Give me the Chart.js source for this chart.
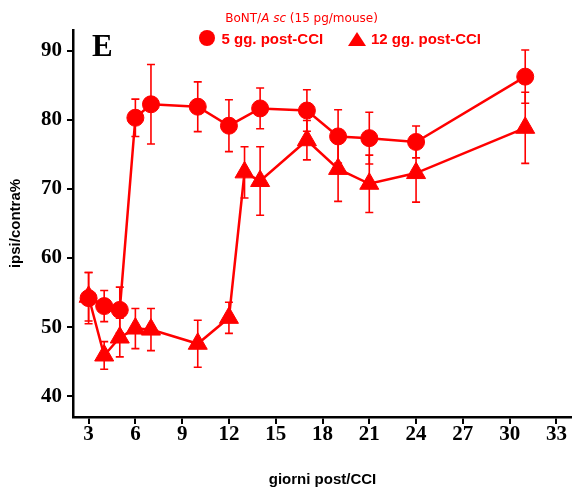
<!DOCTYPE html>
<html>
<head>
<meta charset="utf-8">
<script src="https://cdn.jsdelivr.net/npm/chart.js@4/dist/chart.umd.min.js"></script>
<style>
  html, body { margin: 0; padding: 0; background: #fff; }
  #wrap { position: relative; width: 572px; height: 488px; overflow: hidden; }
  #c { position: absolute; left: 0; top: 0; }
  .ov { position: absolute; white-space: nowrap; color: #ff0000; }
  #panel { left: 92px; top: 29.5px; font: bold 31px/31px "Liberation Serif", serif; color: #000; }
  #hdr { left: 0; width: 603px; text-align: center; top: 12px; font: 12px/12px "DejaVu Sans", sans-serif; }
  .lt { top: 30.6px; font: bold 15px/15px "Liberation Sans", Arial, sans-serif; }
  #dot { left: 199px; top: 30px; width: 16px; height: 16px; border-radius: 50%; background: #ff0000; }
  #tri { left: 348px; top: 31.5px; width: 0; height: 0; border-left: 9px solid transparent; border-right: 9px solid transparent; border-bottom: 14px solid #ff0000; }
</style>
</head>
<body>
<div id="wrap">
  <canvas id="c" width="572" height="488"></canvas>
  <div class="ov" id="panel">E</div>
  <div class="ov" id="hdr">BoNT/<i>A sc</i> (15 pg/mouse)</div>
  <div class="ov" id="dot"></div>
  <div class="ov lt" style="left:221.5px">5 gg. post-CCI</div>
  <div class="ov" id="tri"></div>
  <div class="ov lt" style="left:371px">12 gg. post-CCI</div>
</div>
<script>
// ---- data ----
const days5  = [3, 4, 5, 6, 7, 10, 12, 14, 17, 19, 21, 24, 31];
const mean5  = [54.2, 53.05, 52.5, 80.3, 82.25, 81.9, 79.15, 81.65, 81.35, 77.6, 77.35, 76.8, 86.25];
const err5   = [3.7, 2.25, 3.3, 2.7, 5.75, 3.6, 3.75, 2.95, 3.0, 3.85, 3.75, 2.3, 3.85];

const days12 = [3, 4, 5, 6, 7, 10, 12, 13, 14, 17, 19, 21, 24, 31];
const mean12 = [54.4, 45.9, 48.5, 49.8, 49.65, 47.6, 51.35, 72.4, 71.15, 77.05, 72.9, 70.75, 72.3, 78.85];
const err12  = [3.5, 2.0, 2.8, 2.9, 3.05, 3.4, 2.25, 3.7, 4.95, 2.85, 4.7, 4.15, 4.2, 5.15];

const xTicks = [3, 6, 9, 12, 15, 18, 21, 24, 27, 30, 33];
const yTicks = [40, 50, 60, 70, 80, 90];
const seriesLabels = ['5 gg. post-CCI', '12 gg. post-CCI'];
const xTitle = 'giorni post/CCI';
const yTitle = 'ipsi/contra%';

const RED = '#ff0000';
const toPts = (xs, ys, es) => xs.map((x, i) => ({ x: x, y: ys[i], e: es[i] }));

const errorBars = {
  id: 'errorBars',
  beforeDatasetsDraw(chart) {
    const ctx = chart.ctx;
    const xs = chart.scales.x, ys = chart.scales.y;
    ctx.save();
    ctx.strokeStyle = RED;
    ctx.lineWidth = 1.6;
    chart.data.datasets.forEach(ds => {
      ds.data.forEach(p => {
        const px = xs.getPixelForValue(p.x);
        const pt = ys.getPixelForValue(p.y + p.e);
        const pb = ys.getPixelForValue(p.y - p.e);
        ctx.beginPath();
        ctx.moveTo(px, pt); ctx.lineTo(px, pb);
        ctx.moveTo(px - 4, pt); ctx.lineTo(px + 4, pt);
        ctx.moveTo(px - 4, pb); ctx.lineTo(px + 4, pb);
        ctx.stroke();
      });
    });
    ctx.restore();
  }
};

const tickFont = { family: 'Liberation Serif', weight: 'bold', size: 21 };
const titleFont = { family: 'Liberation Sans', weight: 'bold', size: 15 };

new Chart(document.getElementById('c'), {
  type: 'line',
  data: {
    datasets: [
      {
        label: seriesLabels[0],
        data: toPts(days5, mean5, err5),
        borderColor: RED, backgroundColor: RED, borderWidth: 2.5,
        pointStyle: 'circle', pointRadius: 8.5, pointBorderWidth: 1,
        pointBackgroundColor: RED, pointBorderColor: RED, tension: 0, clip: false
      },
      {
        label: seriesLabels[1],
        data: toPts(days12, mean12, err12),
        borderColor: RED, backgroundColor: RED, borderWidth: 2.5,
        pointStyle: 'triangle', pointRadius: 11, pointBorderWidth: 1,
        pointBackgroundColor: RED, pointBorderColor: RED, tension: 0, clip: false
      }
    ]
  },
  options: {
    responsive: false,
    devicePixelRatio: 1,
    animation: false,
    layout: { autoPadding: false, padding: { top: 30, left: 0, right: 0, bottom: 0 } },
    plugins: { legend: { display: false }, tooltip: { enabled: false } },
    scales: {
      x: {
        type: 'linear', min: 2, max: 34,
        afterBuildTicks: s => { s.ticks = xTicks.map(v => ({ value: v })); },
        afterFit: s => { s.height = 71; s.paddingLeft = 0; s.paddingRight = 0; },
        border: { display: true, color: '#000', width: 2.5 },
        grid: { display: true, drawOnChartArea: false, color: '#000', lineWidth: 2, tickLength: 7 },
        ticks: { color: '#000', font: tickFont, padding: -2, maxRotation: 0, autoSkip: false },
        title: { display: true, text: xTitle, color: '#000', font: titleFont, padding: { top: 0, bottom: -1 } }
      },
      y: {
        type: 'linear', min: 37, max: 93,
        afterBuildTicks: s => { s.ticks = yTicks.map(v => ({ value: v })); },
        afterFit: s => { s.width = 73; s.paddingTop = 0; s.paddingBottom = 0; },
        border: { display: true, color: '#000', width: 2.5 },
        grid: { display: true, drawOnChartArea: false, color: '#000', lineWidth: 2, tickLength: 6 },
        ticks: { color: '#000', font: tickFont, padding: 5 },
        title: { display: true, text: yTitle, color: '#000', font: titleFont, padding: { top: 7, bottom: 0 } }
      }
    }
  },
  plugins: [errorBars]
});
</script>
</body>
</html>
